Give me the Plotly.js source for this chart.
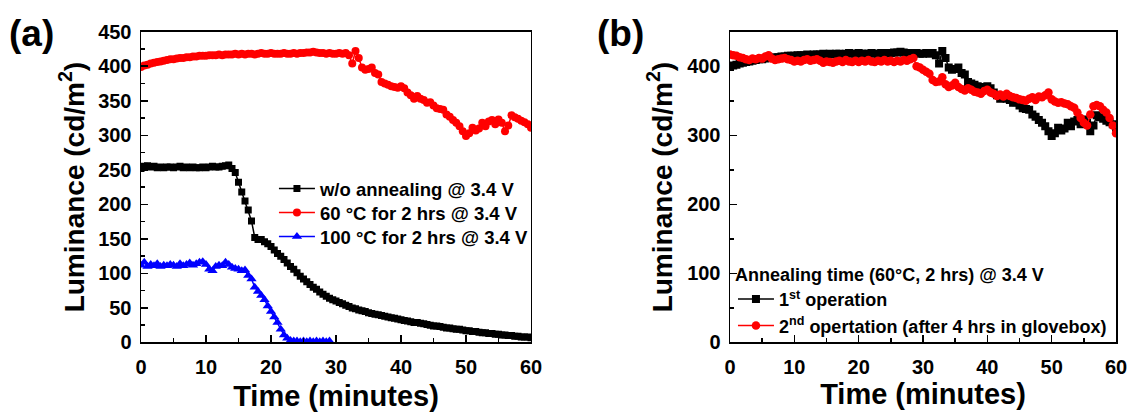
<!DOCTYPE html>
<html>
<head>
<meta charset="utf-8">
<script src="https://cdn.plot.ly/plotly-3.0.1.min.js"></script>
<style>
html,body{margin:0;padding:0;background:#fff;}
#chart{width:1132px;height:412px;}
</style>
</head>
<body>
<div id="chart"></div>
<script>
// Time (minutes)
const time = [0,0.5,1,1.5,2,2.5,3,3.5,4,4.5,5,5.5,6,6.5,7,7.5,8,8.5,9,9.5,10,10.5,11,11.5,12,12.5,13,13.5,14,14.5,15,15.5,16,16.5,17,17.5,18,18.5,19,19.5,20,20.5,21,21.5,22,22.5,23,23.5,24,24.5,25,25.5,26,26.5,27,27.5,28,28.5,29,29.5,30,30.5,31,31.5,32,32.5,33,33.5,34,34.5,35,35.5,36,36.5,37,37.5,38,38.5,39,39.5,40,40.5,41,41.5,42,42.5,43,43.5,44,44.5,45,45.5,46,46.5,47,47.5,48,48.5,49,49.5,50,50.5,51,51.5,52,52.5,53,53.5,54,54.5,55,55.5,56,56.5,57,57.5,58,58.5,59,59.5,60];
const time100 = [0,0.5,1,1.5,2,2.5,3,3.5,4,4.5,5,5.5,6,6.5,7,7.5,8,8.5,9,9.5,10,10.5,11,11.5,12,12.5,13,13.5,14,14.5,15,15.5,16,16.5,17,17.5,18,18.5,19,19.5,20,20.5,21,21.5,22,22.5,23,23.5,24,24.5,25,25.5,26,26.5,27,27.5,28,28.5,29];

// (a) w/o annealing @ 3.4 V
const noAnneal = [252,255,256,254,255,253,254,253,254,254,253,254,255,253,254,253,254,253,253,254,253,254,255,254,254,255,256,257,252,246,232,218,205,192,176,152,149,149,146,143,139,134,129,125,120,115,110,106,101,96,92,88,84,80,77,73,70,67,64,62,60,58,56,54,52,50,49,47,46,45,43,42,41,40,39,38,37,36,35,34,33,32,31,30,29,29,28,27,26,25,24,24,23,22,21,21,20,19,19,18,17,17,16,16,15,14,14,13,13,12,12,11,11,10,10,9,9,8,8,8,7];
// (a) 60 °C for 2 hrs @ 3.4 V  = (b) 1st operation
const anneal60 = [399,401,402,404,405,406,407,408,409,410,410,411,412,412,413,413,414,414,415,415,415,416,416,416,417,416,417,417,417,418,417,418,417,418,418,417,418,419,418,418,419,418,418,418,419,418,418,419,418,419,419,420,420,421,420,419,419,418,419,418,418,419,418,419,416,404,422,412,398,395,396,398,390,388,377,375,373,371,370,369,371,368,362,358,353,357,353,351,347,348,343,339,338,337,330,327,322,318,313,306,299,303,311,307,310,318,313,320,322,316,323,318,306,314,329,326,324,321,319,316,311];
// (a) 100 °C for 2 hrs @ 3.4 V
const anneal100 = [112,116,110,113,111,114,110,112,111,113,112,110,114,111,113,115,112,114,116,117,113,106,104,110,112,111,116,113,109,107,106,104,105,97,92,80,74,68,62,53,45,37,29,19,11,6,3,2,2,1,2,1,2,1,2,1,2,1,2];
// (b) 2nd operation (after 4 hrs in glovebox)
const second = [417,416,415,413,412,410,409,411,410,412,411,414,416,411,409,410,411,412,410,409,407,408,407,409,410,408,409,410,408,405,407,406,405,407,408,406,409,407,406,408,406,408,407,409,407,406,408,407,409,407,408,406,408,407,409,408,410,412,400,398,395,392,389,380,377,378,384,374,370,372,376,370,367,365,368,366,363,362,360,364,366,362,360,357,359,356,360,357,355,354,352,351,350,353,355,351,356,355,358,362,352,349,347,348,346,345,342,340,333,325,318,314,330,342,344,342,337,333,325,314,303];

const labelsA = ['w/o annealing @ 3.4 V','60 °C for 2 hrs @ 3.4 V','100 °C for 2 hrs @ 3.4 V'];
const labelsB = ['1<sup>st</sup> operation','2<sup>nd</sup> opertation (after 4 hrs in glovebox)'];
const legendTitleB = 'Annealing time (60°C, 2 hrs) @ 3.4 V';

const FONT = 'Liberation Sans, Arial, sans-serif';

function tr(x, y, name, color, symbol, size, xa, ya, leg) {
  return {
    x: x, y: y, name: name, type: 'scatter', mode: 'lines+markers',
    xaxis: xa, yaxis: ya, legend: leg,
    line: {color: color, width: 1.5},
    marker: {color: color, symbol: symbol, size: size, line: {width: 0}}
  };
}

const data = [
  tr(time, noAnneal, labelsA[0], '#000000', 'square', 7, 'x', 'y', 'legend'),
  tr(time, anneal60, labelsA[1], '#ff0000', 'circle', 8, 'x', 'y', 'legend3'),
  tr(time100, anneal100, labelsA[2], '#0000ff', 'triangle-up', 9, 'x', 'y', 'legend4'),
  tr(time, anneal60, labelsB[0], '#000000', 'square', 8, 'x2', 'y2', 'legend2'),
  tr(time, second, labelsB[1], '#ff0000', 'circle', 8.5, 'x2', 'y2', 'legend2')
];

const tickFont = {family: FONT, size: 20, color: '#000', weight: 'bold'};
const titleFont = {family: FONT, size: 29, color: '#000', weight: 'bold'};

function xAxis(domain, anchor, standoff) {
  return {
    domain: domain, anchor: anchor, range: [0, 60], dtick: 10, tick0: 0,
    showgrid: false, zeroline: false, showline: true, mirror: true,
    linecolor: '#000', linewidth: 1.5,
    ticks: 'inside', ticklen: 7, tickwidth: 1.5, tickcolor: '#000',
    minor: {dtick: 5, ticks: 'inside', ticklen: 4, tickwidth: 1.5, tickcolor: '#000'},
    tickfont: tickFont, ticklabelstandoff: 6,
    title: {text: 'Time (minutes)', font: titleFont, standoff: standoff}
  };
}
function yAxis(domain, anchor, dtick, minor, standoff) {
  return {
    domain: domain, anchor: anchor, range: [0, 450], dtick: dtick, tick0: 0,
    showgrid: false, zeroline: false, showline: true, mirror: true,
    linecolor: '#000', linewidth: 1.5,
    ticks: 'inside', ticklen: 7, tickwidth: 1.5, tickcolor: '#000',
    minor: {dtick: minor, ticks: 'inside', ticklen: 4, tickwidth: 1.5, tickcolor: '#000'},
    tickfont: tickFont, ticklabelstandoff: 4,
    title: {text: 'Luminance (cd/m<sup>2</sup>)', font: {family: FONT, size: 28, color: '#000', weight: 'bold'}, standoff: standoff}
  };
}

const legA = (y) => ({
  x: 0.2420, y: y, xanchor: 'left', yanchor: 'top', itemwidth: 36,
  bgcolor: 'rgba(0,0,0,0)', borderwidth: 0,
  font: {family: FONT, size: 18.5, color: '#000', weight: 'bold'}
});

const yDom = [0.1687, 0.9231];
const layout = {
  width: 1132, height: 412,
  margin: {l: 0, r: 0, t: 0, b: 0},
  paper_bgcolor: '#fff', plot_bgcolor: '#fff',
  font: {family: FONT, color: '#000'},
  xaxis: xAxis([0.12456, 0.46908], 'y', 8),
  yaxis: yAxis(yDom, 'x', 50, 25, 5),
  xaxis2: xAxis([0.64488, 0.98587], 'y2', 3),
  yaxis2: yAxis(yDom, 'x2', 100, 50, 6),
  legend: legA(0.5874),
  legend3: legA(0.5291),
  legend4: legA(0.4709),
  legend2: {
    x: 0.6475, y: 0.375, xanchor: 'left', yanchor: 'top', itemwidth: 36,
    bgcolor: 'rgba(0,0,0,0)', borderwidth: 0,
    font: {family: FONT, size: 18, color: '#000', weight: 'bold'},
    title: {text: legendTitleB, side: 'top', font: {family: FONT, size: 18, color: '#000', weight: 'bold'}}
  },
  annotations: [
    {text: '(a)', xref: 'paper', yref: 'paper', x: 31/1132, y: 0.9175, xanchor: 'center', yanchor: 'middle', showarrow: false, font: {family: FONT, size: 37, color: '#000', weight: 'bold'}},
    {text: '(b)', xref: 'paper', yref: 'paper', x: 620/1132, y: 0.9175, xanchor: 'center', yanchor: 'middle', showarrow: false, font: {family: FONT, size: 37, color: '#000', weight: 'bold'}}
  ],
  showlegend: true
};

Plotly.newPlot('chart', data, layout, {displayModeBar: false, staticPlot: true});
</script>
</body>
</html>
